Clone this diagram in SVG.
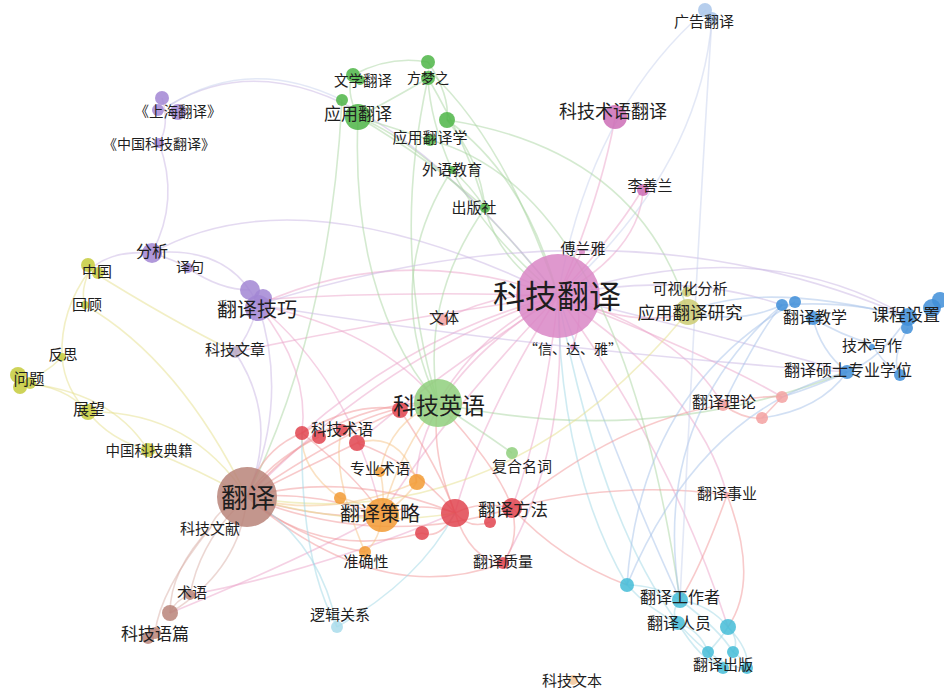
<svg xmlns="http://www.w3.org/2000/svg" width="944" height="688" viewBox="0 0 944 688">
<style>
text{font-family:"Noto Sans CJK SC","Noto Sans",sans-serif;fill:#1e1e1e;text-anchor:middle;dominant-baseline:central}
#edges path{fill:none;stroke-width:1.6;stroke-opacity:.5}
.ep{stroke:#eba3c9}.eg{stroke:#a9d6a1}.eu{stroke:#c9b5e3}.ey{stroke:#e6df8c}.er{stroke:#f19597}
.eo{stroke:#f5c488}.eb{stroke:#a6c2ea}.ec{stroke:#9fd7e6}.ew{stroke:#d9b0a8}.el{stroke:#c8d2ee}
.nu{fill:#a286d3}.ny{fill:#c6cb3c}.ng{fill:#4db546}.nlg{fill:#8fcf7c}.np{fill:#d986c5}.nm{fill:#cd6db6}
.nb{fill:#3f8ed8}.nc{fill:#44bcd7}.nr{fill:#e0444f}.no{fill:#f29a33}.nw{fill:#b98479}.ns{fill:#f3a1a1}
.nl{fill:#a9c5ea}.nol{fill:#cbcb72}.nq{fill:#b9a9c6}.npc{fill:#a9dceb}.nbe{fill:#f2c79b}
circle{fill-opacity:.85}
</style>
<g id="edges">
<path class="ep" d="M558,296 Q600,200 615,118"/>
<path class="ep" d="M558,296 Q615,235 642,190"/>
<path class="ep" d="M558,296 Q640,250 643,190"/>
<path class="el" d="M558,296 Q590,110 706,10"/>
<path class="el" d="M558,296 Q700,170 712,18"/>
<path class="ep" d="M558,296 Q575,265 582,252"/>
<path class="eg" d="M558,296 Q500,265 485,208"/>
<path class="eg" d="M558,296 Q485,235 452,170"/>
<path class="eg" d="M558,296 Q525,175 447,120"/>
<path class="eg" d="M558,296 Q505,140 428,70"/>
<path class="eg" d="M558,296 Q440,150 358,117"/>
<path class="eu" d="M558,296 Q330,10 170,105"/>
<path class="eu" d="M558,296 Q300,170 152,253"/>
<path class="ep" d="M558,296 Q400,240 258,305"/>
<path class="ep" d="M558,296 Q400,290 255,300"/>
<path class="ep" d="M558,296 Q390,320 235,352"/>
<path class="ep" d="M558,296 Q500,290 443,320"/>
<path class="ep" d="M558,296 Q480,330 438,403"/>
<path class="ep" d="M558,296 Q390,350 247,497"/>
<path class="ep" d="M558,296 Q420,330 302,433"/>
<path class="ep" d="M558,296 Q430,380 357,443"/>
<path class="ep" d="M558,296 Q440,420 382,515"/>
<path class="ep" d="M558,296 Q480,420 455,513"/>
<path class="ep" d="M558,296 Q545,420 512,508"/>
<path class="ep" d="M558,296 Q570,450 503,563"/>
<path class="ep" d="M558,296 Q680,330 723,405"/>
<path class="ep" d="M558,296 Q720,360 782,397"/>
<path class="ep" d="M558,296 Q700,390 727,495"/>
<path class="ec" d="M558,296 Q560,470 627,585"/>
<path class="eb" d="M558,296 Q620,470 680,600"/>
<path class="ec" d="M558,296 Q600,520 678,623"/>
<path class="ep" d="M558,296 Q670,450 728,627"/>
<path class="eu" d="M558,296 Q680,270 782,305"/>
<path class="eu" d="M558,296 Q760,230 908,317"/>
<path class="eu" d="M558,296 Q720,335 847,372"/>
<path class="ep" d="M558,296 Q640,330 688,312"/>
<path class="ep" d="M558,296 Q590,300 573,345"/>
<path class="ep" d="M558,296 Q420,380 416,482"/>
<path class="eg" d="M358,117 Q345,90 353,75"/>
<path class="eg" d="M358,117 Q400,95 428,78"/>
<path class="eg" d="M353,75 Q390,55 428,62"/>
<path class="eg" d="M428,62 Q450,95 447,120"/>
<path class="eg" d="M428,78 Q430,120 452,170"/>
<path class="eg" d="M428,78 Q470,150 485,208"/>
<path class="eg" d="M447,120 Q480,160 485,208"/>
<path class="eg" d="M452,170 Q470,185 485,208"/>
<path class="eg" d="M358,117 Q400,130 430,140"/>
<path class="eg" d="M358,117 Q430,160 485,208"/>
<path class="eg" d="M358,117 Q350,300 438,403"/>
<path class="eg" d="M342,100 Q330,330 247,497"/>
<path class="eg" d="M485,208 Q420,300 438,403"/>
<path class="eg" d="M452,170 Q380,280 438,403"/>
<path class="eg" d="M428,78 Q390,250 438,403"/>
<path class="eg" d="M447,120 Q640,150 688,312"/>
<path class="eg" d="M430,140 Q620,190 680,600"/>
<path class="eg" d="M438,403 Q650,450 847,372"/>
<path class="eg" d="M438,403 Q480,430 512,453"/>
<path class="el" d="M170,105 Q250,55 342,100"/>
<path class="eu" d="M162,98 Q170,125 159,143"/>
<path class="eu" d="M159,143 Q180,200 152,253"/>
<path class="eu" d="M152,253 Q175,260 188,268"/>
<path class="eu" d="M152,253 Q230,245 258,305"/>
<path class="eu" d="M188,268 Q220,290 250,290"/>
<path class="eu" d="M152,253 Q110,250 90,270"/>
<path class="eu" d="M258,305 Q250,335 235,352"/>
<path class="eu" d="M258,305 Q615,190 908,317"/>
<path class="eu" d="M258,305 Q540,350 847,372"/>
<path class="eu" d="M258,305 Q290,400 247,497"/>
<path class="eu" d="M235,352 Q280,420 247,497"/>
<path class="ep" d="M258,305 Q310,370 302,433"/>
<path class="ep" d="M258,305 Q350,380 382,515"/>
<path class="ep" d="M258,305 Q380,330 438,403"/>
<path class="ey" d="M90,270 Q170,320 235,352"/>
<path class="ey" d="M90,270 Q60,310 62,357"/>
<path class="ey" d="M90,270 Q80,290 85,305"/>
<path class="ey" d="M62,357 Q65,390 88,412"/>
<path class="ey" d="M20,383 Q45,375 62,357"/>
<path class="ey" d="M20,383 Q65,385 88,412"/>
<path class="ey" d="M20,383 Q110,390 148,450"/>
<path class="ey" d="M88,412 Q110,440 148,450"/>
<path class="ey" d="M88,412 Q190,410 247,497"/>
<path class="ey" d="M148,450 Q200,470 247,497"/>
<path class="ey" d="M247,497 Q500,540 688,312"/>
<path class="ey" d="M85,305 Q180,360 247,497"/>
<path class="ew" d="M247,497 Q215,510 211,527"/>
<path class="ew" d="M247,497 Q200,540 190,595"/>
<path class="ew" d="M247,497 Q240,570 170,613"/>
<path class="ew" d="M211,527 Q170,570 170,613"/>
<path class="ew" d="M190,595 Q175,600 170,613"/>
<path class="ew" d="M211,527 Q160,590 155,633"/>
<path class="ep" d="M190,595 Q320,570 455,513"/>
<path class="ep" d="M170,613 Q300,560 382,515"/>
<path class="er" d="M302,433 Q260,450 247,497"/>
<path class="er" d="M319,437 Q270,460 247,497"/>
<path class="er" d="M357,443 Q300,470 247,497"/>
<path class="er" d="M302,433 Q360,400 400,410"/>
<path class="er" d="M342,430 Q390,405 438,403"/>
<path class="er" d="M357,443 Q410,460 455,513"/>
<path class="er" d="M302,433 Q360,480 382,515"/>
<path class="er" d="M247,497 Q310,490 382,515"/>
<path class="er" d="M247,497 Q320,520 382,515"/>
<path class="er" d="M247,497 Q350,470 455,513"/>
<path class="er" d="M247,497 Q380,550 512,508"/>
<path class="er" d="M247,497 Q330,400 438,403"/>
<path class="er" d="M247,497 Q330,440 400,410"/>
<path class="er" d="M247,497 Q380,610 503,563"/>
<path class="er" d="M247,497 Q320,560 422,533"/>
<path class="er" d="M247,497 Q300,540 365,552"/>
<path class="er" d="M455,513 Q480,500 512,508"/>
<path class="er" d="M455,513 Q420,500 382,515"/>
<path class="er" d="M455,513 Q430,450 438,403"/>
<path class="er" d="M455,513 Q470,560 503,563"/>
<path class="er" d="M455,513 Q440,540 422,533"/>
<path class="er" d="M455,513 Q470,530 490,522"/>
<path class="er" d="M512,508 Q520,540 503,563"/>
<path class="er" d="M512,508 Q500,470 438,403"/>
<path class="er" d="M512,508 Q620,420 723,405"/>
<path class="er" d="M512,508 Q560,560 627,585"/>
<path class="er" d="M512,508 Q620,480 727,495"/>
<path class="er" d="M400,410 Q440,470 455,513"/>
<path class="er" d="M723,405 Q755,395 782,397"/>
<path class="er" d="M723,405 Q745,420 762,418"/>
<path class="er" d="M782,397 Q770,410 762,418"/>
<path class="eb" d="M782,397 Q820,385 847,372"/>
<path class="eb" d="M762,418 Q820,410 847,372"/>
<path class="eb" d="M723,405 Q760,330 782,305"/>
<path class="er" d="M727,495 Q700,570 680,600"/>
<path class="er" d="M727,495 Q760,580 728,627"/>
<path class="eo" d="M382,515 Q385,490 380,472"/>
<path class="eo" d="M382,515 Q405,500 417,482"/>
<path class="eo" d="M382,515 Q355,500 340,498"/>
<path class="eo" d="M382,515 Q380,540 365,552"/>
<path class="eo" d="M382,515 Q400,450 438,403"/>
<path class="eo" d="M380,472 Q390,420 438,403"/>
<path class="eo" d="M417,482 Q400,430 357,443"/>
<path class="eo" d="M340,498 Q300,470 302,433"/>
<path class="eo" d="M365,552 Q330,470 342,430"/>
<path class="eo" d="M247,497 Q330,520 417,482"/>
<path class="ey" d="M247,497 Q360,530 455,513"/>
<path class="ec" d="M337,627 Q320,540 247,497"/>
<path class="ec" d="M337,627 Q420,580 455,513"/>
<path class="ec" d="M337,627 Q300,560 302,433"/>
<path class="eb" d="M782,305 Q850,300 908,317"/>
<path class="eb" d="M813,318 Q840,335 872,344"/>
<path class="eb" d="M813,318 Q820,350 847,372"/>
<path class="eb" d="M908,317 Q880,360 847,372"/>
<path class="eb" d="M908,328 Q890,360 900,375"/>
<path class="eb" d="M872,344 Q880,360 900,375"/>
<path class="eb" d="M782,305 Q740,325 688,312"/>
<path class="eb" d="M782,305 Q650,420 680,600"/>
<path class="eb" d="M795,302 Q640,390 627,585"/>
<path class="eb" d="M847,372 Q700,410 627,585"/>
<path class="eb" d="M908,317 Q760,280 688,312"/>
<path class="ec" d="M627,585 Q655,585 680,600"/>
<path class="ec" d="M627,585 Q650,610 678,623"/>
<path class="ec" d="M680,600 Q670,612 678,623"/>
<path class="ec" d="M680,600 Q710,605 728,627"/>
<path class="ec" d="M678,623 Q700,630 708,652"/>
<path class="ec" d="M680,600 Q720,630 733,652"/>
<path class="ec" d="M678,623 Q700,660 723,668"/>
<path class="ec" d="M728,627 Q720,640 708,652"/>
<path class="ec" d="M728,627 Q740,640 733,652"/>
<path class="ec" d="M728,627 Q750,650 747,668"/>
<path class="ec" d="M708,652 Q715,665 723,668"/>
<path class="ec" d="M733,652 Q745,660 747,668"/>
<path class="ec" d="M678,623 Q720,670 747,668"/>
<path class="el" d="M712,18 Q700,200 680,600"/>
</g>
<g id="n-shfy"><circle class="nu" cx="162" cy="98" r="7"/><circle class="nu" cx="178" cy="112" r="8"/><circle class="nu" cx="158" cy="110" r="6"/><text x="178" y="110" font-size="14.5">《上海翻译》</text></g>
<g id="n-zgkjfy"><circle class="nu" cx="159" cy="143" r="5"/><text x="159" y="143" font-size="14">《中国科技翻译》</text></g>
<g id="n-fx"><circle class="nu" cx="152" cy="253" r="10"/><text x="152" y="250" font-size="16">分析</text></g>
<g id="n-yj"><circle class="nu" cx="188" cy="268" r="5"/><text x="190" y="266" font-size="14">译句</text></g>
<g id="n-fyjq"><circle class="nu" cx="250" cy="290" r="10"/><circle class="nu" cx="263" cy="298" r="9"/><circle class="nu" cx="258" cy="308" r="13"/><text x="257" y="308" font-size="20">翻译技巧</text></g>
<g id="n-kjwz"><circle class="nq" cx="235" cy="352" r="6"/><text x="235" y="348" font-size="15">科技文章</text></g>
<g id="n-zg"><circle class="ny" cx="88" cy="265" r="7"/><circle class="ny" cx="98" cy="273" r="6"/><text x="97" y="270" font-size="15">中国</text></g>
<g id="n-hg"><circle class="ny" cx="85" cy="305" r="4"/><text x="87" y="303" font-size="15">回顾</text></g>
<g id="n-fs"><circle class="ny" cx="62" cy="357" r="4"/><text x="63" y="353" font-size="14.5">反思</text></g>
<g id="n-wt"><circle class="ny" cx="18" cy="375" r="8"/><circle class="ny" cx="20" cy="387" r="7"/><circle class="ny" cx="30" cy="383" r="6"/><text x="29" y="378" font-size="15.5">问题</text></g>
<g id="n-zw"><circle class="ny" cx="88" cy="412" r="8"/><text x="89" y="408" font-size="16">展望</text></g>
<g id="n-zgkjdj"><circle class="ny" cx="148" cy="450" r="7"/><text x="149" y="449" font-size="14.5">中国科技典籍</text></g>
<g id="n-wxfy"><circle class="ng" cx="353" cy="75" r="7"/><circle class="ng" cx="360" cy="80" r="5"/><text x="363" y="79" font-size="14.5">文学翻译</text></g>
<g id="n-fmz"><circle class="ng" cx="428" cy="62" r="7"/><circle class="ng" cx="428" cy="78" r="7"/><text x="428" y="77" font-size="14">方梦之</text></g>
<g id="n-yyfy"><circle class="ng" cx="342" cy="100" r="6"/><circle class="ng" cx="358" cy="117" r="13"/><text x="358" y="112" font-size="17">应用翻译</text></g>
<g id="n-yyfyx"><circle class="ng" cx="447" cy="120" r="8"/><circle class="ng" cx="430" cy="140" r="6"/><text x="430" y="136" font-size="15">应用翻译学</text></g>
<g id="n-wyjy"><circle class="ng" cx="452" cy="170" r="4"/><text x="452" y="168" font-size="15">外语教育</text></g>
<g id="n-cbs"><circle class="ng" cx="485" cy="208" r="5"/><text x="474" y="206" font-size="15">出版社</text></g>
<g id="n-kjsyfy"><circle class="nm" cx="615" cy="117" r="12"/><text x="613" y="110" font-size="18">科技术语翻译</text></g>
<g id="n-lsl"><circle class="nm" cx="643" cy="190" r="6"/><text x="650" y="184" font-size="15">李善兰</text></g>
<g id="n-ggfy"><circle class="nl" cx="705" cy="10" r="7"/><circle class="nl" cx="712" cy="18" r="6"/><text x="704" y="20" font-size="15">广告翻译</text></g>
<g id="n-fly"><circle class="np" cx="582" cy="252" r="3"/><text x="583" y="247" font-size="15">傅兰雅</text></g>
<g id="n-kjfy"><circle class="np" cx="558" cy="296" r="42"/><text x="557" y="294" font-size="32">科技翻译</text></g>
<g id="n-xdy"><circle class="np" cx="573" cy="347" r="3"/><text x="573" y="348" font-size="14">“信、达、雅”</text></g>
<g id="n-wt2"><circle class="ns" cx="443" cy="320" r="6"/><text x="444" y="316" font-size="15">文体</text></g>
<g id="n-kjyy"><circle class="nr" cx="400" cy="410" r="8"/><circle class="nlg" cx="438" cy="403" r="24"/><text x="439" y="404" font-size="23">科技英语</text></g>
<g id="n-kshfx"><circle class="nol" cx="687" cy="292" r="5"/><text x="690" y="287" font-size="15">可视化分析</text></g>
<g id="n-yyfyyj"><circle class="nol" cx="688" cy="312" r="13"/><text x="690" y="311" font-size="17.5">应用翻译研究</text></g>
<g id="n-fyjx"><circle class="nb" cx="782" cy="305" r="6"/><circle class="nb" cx="795" cy="302" r="6"/><circle class="nb" cx="813" cy="318" r="7"/><text x="815" y="316" font-size="16">翻译教学</text></g>
<g id="n-kcsz"><circle class="nb" cx="908" cy="317" r="9"/><circle class="nb" cx="907" cy="328" r="6"/><circle class="nb" cx="932" cy="308" r="9"/><circle class="nb" cx="940" cy="300" r="8"/><text x="906" y="313" font-size="17">课程设置</text></g>
<g id="n-jsxz"><circle class="nb" cx="872" cy="347" r="3"/><text x="872" y="344" font-size="15">技术写作</text></g>
<g id="n-fyss"><circle class="nb" cx="847" cy="372" r="7"/><circle class="nb" cx="900" cy="375" r="6"/><text x="848" y="369" font-size="16">翻译硕士专业学位</text></g>
<g id="n-fyll"><circle class="ns" cx="723" cy="405" r="6"/><circle class="ns" cx="782" cy="397" r="6"/><circle class="ns" cx="762" cy="418" r="6"/><text x="724" y="401" font-size="16">翻译理论</text></g>
<g id="n-fysy"><circle class="ns" cx="727" cy="495" r="3"/><text x="727" y="492" font-size="15">翻译事业</text></g>
<g id="n-fygzz"><circle class="nc" cx="627" cy="585" r="7"/><circle class="nc" cx="680" cy="600" r="8"/><text x="680" y="596" font-size="16">翻译工作者</text></g>
<g id="n-fyry"><circle class="nc" cx="678" cy="623" r="7"/><circle class="nc" cx="728" cy="627" r="8"/><text x="679" y="622" font-size="16">翻译人员</text></g>
<g id="n-fycb"><circle class="nc" cx="708" cy="652" r="6"/><circle class="nc" cx="733" cy="652" r="6"/><circle class="nc" cx="723" cy="668" r="6"/><circle class="nc" cx="747" cy="668" r="6"/><text x="723" y="663" font-size="15">翻译出版</text></g>
<g id="n-kjsy"><circle class="nr" cx="302" cy="433" r="7"/><circle class="nr" cx="319" cy="437" r="7"/><circle class="nr" cx="342" cy="430" r="6"/><circle class="nr" cx="357" cy="443" r="8"/><text x="342" y="428" font-size="15.5">科技术语</text></g>
<g id="n-zysy"><circle class="no" cx="380" cy="472" r="5"/><circle class="no" cx="417" cy="482" r="8"/><circle class="no" cx="340" cy="498" r="6"/><text x="380" y="467" font-size="15">专业术语</text></g>
<g id="n-fycl"><circle class="no" cx="382" cy="515" r="17"/><text x="380" y="512" font-size="20">翻译策略</text></g>
<g id="n-red"><circle class="nr" cx="455" cy="513" r="14"/><circle class="nr" cx="422" cy="533" r="7"/></g>
<g id="n-fyff"><circle class="nr" cx="512" cy="508" r="10"/><circle class="nr" cx="490" cy="522" r="6"/><text x="513" y="508" font-size="17.5">翻译方法</text></g>
<g id="n-zqx"><circle class="no" cx="365" cy="552" r="6"/><text x="366" y="560" font-size="15">准确性</text></g>
<g id="n-fyzl"><circle class="nr" cx="503" cy="563" r="6"/><text x="503" y="560" font-size="15">翻译质量</text></g>
<g id="n-fhmc"><circle class="nlg" cx="512" cy="453" r="6"/><text x="522" y="465" font-size="15">复合名词</text></g>
<g id="n-ljgx"><circle class="npc" cx="337" cy="627" r="6"/><text x="340" y="613" font-size="15">逻辑关系</text></g>
<g id="n-kjwb"><circle class="nbe" cx="573" cy="680" r="5"/><text x="572" y="679" font-size="15">科技文本</text></g>
<g id="n-fy"><circle class="nw" cx="247" cy="497" r="30"/><text x="248" y="496" font-size="27">翻译</text></g>
<g id="n-kjwx"><text x="210" y="527" font-size="15">科技文献</text></g>
<g id="n-sy"><circle class="nw" cx="190" cy="595" r="5"/><text x="192" y="591" font-size="15">术语</text></g>
<g id="n-kjyp"><circle class="nw" cx="170" cy="613" r="8"/><circle class="nw" cx="148" cy="638" r="6"/><circle class="nw" cx="155" cy="633" r="6"/><text x="155" y="632" font-size="17">科技语篇</text></g>
</svg>
